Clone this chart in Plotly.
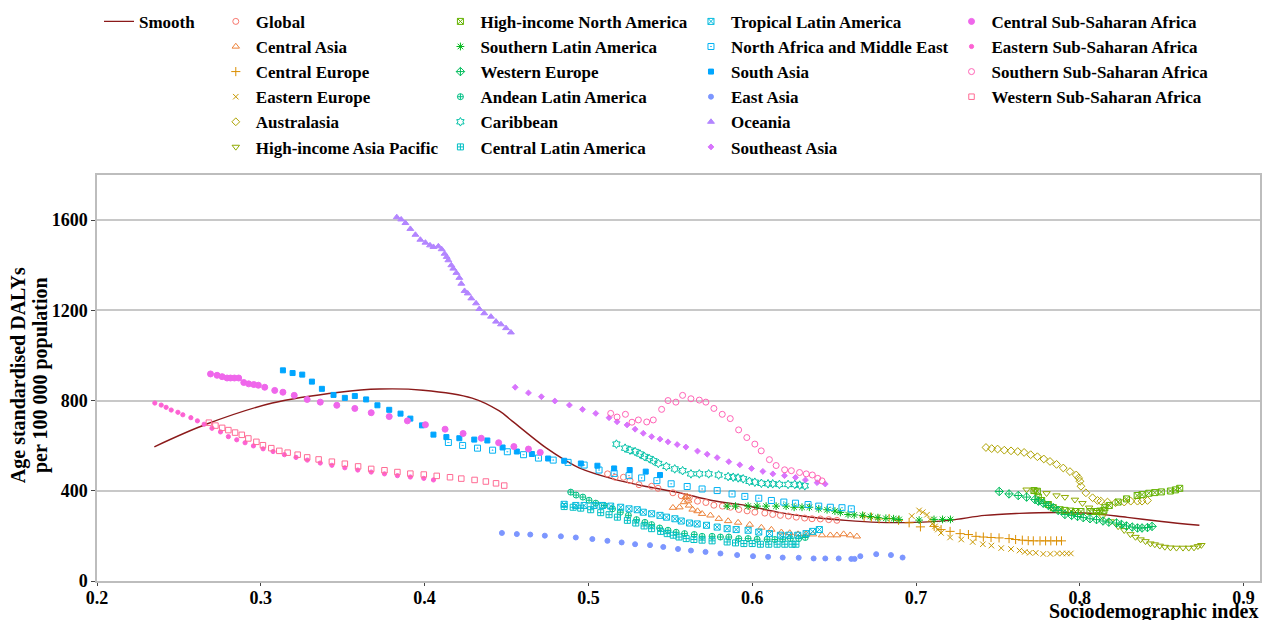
import math
import plotly.graph_objects as go

# ---------------- data ----------------
regions = ["Global", "Central Asia", "Central Europe", "Eastern Europe", "Australasia",
           "High-income Asia Pacific", "High-income North America", "Southern Latin America",
           "Western Europe", "Andean Latin America", "Caribbean", "Central Latin America",
           "Tropical Latin America", "North Africa and Middle East", "South Asia", "East Asia",
           "Oceania", "Southeast Asia", "Central Sub-Saharan Africa", "Eastern Sub-Saharan Africa",
           "Southern Sub-Saharan Africa", "Western Sub-Saharan Africa"]

sdi_global = [0.5117,0.5163,0.5214,0.5254,0.5309,0.5386,0.5425,0.5516,0.5567,0.5616,0.5666,0.5717,0.5766,0.5818,0.5867,0.5918,0.5969,0.6016,0.6077,0.6125,0.6172,0.6221,0.6269,0.632,0.6365,0.6416,0.6467,0.6517]
daly_global = [475,460,460,445,427,420,411,391,378,370,354,348,336,332,327,317,311,305,301,295,291,288,283,279,276,275,272,269]

sdi_central_asia = [0.5516,0.5556,0.5583,0.5593,0.5603,0.5609,0.5614,0.5636,0.5666,0.5694,0.5745,0.5796,0.5853,0.5914,0.5985,0.6056,0.6117,0.6178,0.6229,0.628,0.6329,0.6371,0.6426,0.6477,0.6517,0.6558,0.6598,0.6639]
daly_central_asia = [325,327,350,372,375,357,335,317,310,298,291,276,266,259,250,237,228,216,213,208,208,207,203,203,203,208,203,198]

sdi_central_europe = [0.6683,0.6728,0.6774,0.6836,0.6893,0.6958,0.7027,0.7111,0.7153,0.7208,0.7269,0.732,0.7366,0.7411,0.7458,0.7507,0.7568,0.7608,0.7649,0.7685,0.7716,0.7757,0.7791,0.7823,0.7858,0.7888]
daly_central_europe = [285,283,275,277,269,258,240,242,228,220,210,206,198,195,193,191,188,184,181,179,178,178,178,178,178,178]

sdi_eastern_europe = [0.6974,0.7019,0.7041,0.7067,0.7085,0.71,0.7116,0.7133,0.7153,0.7208,0.7276,0.7346,0.7408,0.746,0.752,0.758,0.7632,0.7664,0.7694,0.7731,0.7777,0.782,0.7861,0.7893,0.792,0.7945]
daly_eastern_europe = [288,313,305,294,273,254,242,228,213,193,184,173,163,157,146,142,135,129,125,125,120,120,122,122,122,122]

sdi_australasia = [0.7427,0.7462,0.7498,0.7539,0.758,0.7621,0.766,0.77,0.7741,0.778,0.7818,0.7858,0.7899,0.794,0.7978,0.7993,0.8001,0.8007,0.8037,0.8078,0.8108,0.8128,0.8169,0.8218,0.8271,0.8311,0.8352,0.838,0.8413]
daly_australasia = [592,587,585,580,577,574,570,560,551,541,530,517,501,485,470,457,442,420,391,369,357,354,350,347,350,354,354,354,357]

sdi_hi_asia_pacific = [0.7675,0.7726,0.7797,0.7858,0.7909,0.797,0.8016,0.8057,0.8102,0.8138,0.8189,0.8234,0.8271,0.8309,0.834,0.8371,0.8401,0.8431,0.8458,0.8488,0.8519,0.8553,0.859,0.863,0.8665,0.8697,0.8721,0.8742]
daly_hi_asia_pacific = [405,401,389,379,372,360,345,325,305,286,264,242,225,207,195,184,176,166,162,156,151,148,147,147,147,148,154,159]

sdi_hi_north_america = [0.772,0.7741,0.7747,0.7767,0.7808,0.7838,0.7879,0.7909,0.7946,0.7974,0.8007,0.8062,0.8102,0.8122,0.8147,0.8153,0.818,0.8234,0.8285,0.835,0.838,0.8421,0.8458,0.8498,0.8553,0.8584,0.861]
daly_hi_north_america = [401,398,372,357,339,325,316,313,310,308,308,308,308,310,313,325,335,350,364,379,383,389,392,395,399,404,411]

sdi_southern_latam = [0.5847,0.5898,0.5975,0.603,0.6085,0.6146,0.6207,0.6256,0.6304,0.6349,0.6406,0.6457,0.6505,0.6538,0.6585,0.6623,0.6674,0.6721,0.6767,0.6816,0.6863,0.6897,0.7019,0.711,0.7162,0.721]
daly_southern_latam = [332,332,332,332,332,332,332,327,327,327,320,316,310,304,295,293,291,286,281,278,276,273,270,273,273,273]

sdi_western_europe = [0.7508,0.7568,0.7624,0.7675,0.7726,0.7747,0.7777,0.7808,0.7838,0.7868,0.7909,0.795,0.7986,0.8021,0.8062,0.8102,0.8142,0.8177,0.8224,0.8254,0.8285,0.832,0.8352,0.838,0.8413,0.8441]
daly_western_europe = [397,386,379,372,361,354,345,335,325,313,295,291,286,281,276,272,266,261,257,251,244,239,235,235,237,242]

sdi_andean_latam = [0.4892,0.4925,0.4966,0.5004,0.5045,0.5096,0.5147,0.5195,0.5244,0.5294,0.5345,0.5386,0.5435,0.5486,0.5536,0.5587,0.5646,0.5694,0.5755,0.5806,0.5857,0.5918,0.5975,0.603,0.6091,0.6138,0.6186,0.6233,0.6284,0.6324]
daly_andean_latam = [394,381,372,358,345,335,320,305,291,272,260,250,235,225,216,210,206,198,198,195,195,188,188,185,185,184,185,188,188,193]

sdi_caribbean = [0.5171,0.5224,0.5254,0.5285,0.5315,0.5342,0.5371,0.5397,0.5427,0.5476,0.5527,0.5575,0.5626,0.5677,0.5734,0.5795,0.5853,0.5884,0.5914,0.5945,0.5983,0.6016,0.6056,0.6097,0.6125,0.6166,0.6219,0.626,0.629,0.6321]
daly_caribbean = [607,589,580,574,563,552,543,533,521,508,497,489,475,475,475,470,463,460,457,453,442,438,433,431,431,428,428,428,425,422]

sdi_central_latam = [0.4852,0.4907,0.4953,0.5014,0.5075,0.5126,0.5177,0.5238,0.5289,0.534,0.5386,0.5441,0.5481,0.5518,0.5553,0.5597,0.5644,0.5694,0.5755,0.5847,0.5898,0.5949,0.6,0.605,0.6101,0.6152,0.6199,0.6243,0.6267]
daly_central_latam = [330,327,323,316,303,294,283,269,257,244,232,220,210,203,195,188,184,181,178,173,169,166,166,163,163,163,163,163,163]

sdi_tropical_latam = [0.4852,0.4923,0.4974,0.5035,0.5085,0.5136,0.5197,0.5248,0.5298,0.5335,0.5386,0.5437,0.5477,0.5528,0.5567,0.5617,0.5664,0.5721,0.5786,0.5847,0.5902,0.5975,0.604,0.6105,0.6172,0.6223,0.6278,0.6329,0.6369,0.641]
daly_tropical_latam = [340,335,335,335,335,332,327,320,316,305,298,291,283,276,266,257,253,247,239,232,228,225,217,210,203,203,203,210,220,228]

sdi_name = [0.4145,0.4232,0.4323,0.4415,0.4505,0.4604,0.4695,0.4785,0.4876,0.4974,0.5065,0.5157,0.5248,0.5325,0.5418,0.5505,0.5603,0.5694,0.5786,0.5877,0.5955,0.604,0.6117,0.6193,0.6264,0.6341,0.6406,0.6477,0.6548,0.6605]
daly_name = [614,601,589,580,573,560,545,536,526,514,492,477,467,457,445,431,419,408,401,386,375,367,357,350,345,339,332,327,325,320]

sdi_south_asia = [0.3135,0.3194,0.3253,0.3312,0.3373,0.3444,0.3513,0.3574,0.3643,0.3712,0.3784,0.3853,0.3913,0.3984,0.4054,0.4133,0.4212,0.4303,0.4383,0.4476,0.4563,0.4655,0.4754,0.4852,0.4954,0.5055,0.5157,0.5252,0.535,0.5437]
daly_south_asia = [934,922,915,884,852,825,812,820,805,779,759,742,720,690,649,638,633,627,623,592,574,563,543,533,521,511,499,492,485,470]

sdi_east_asia = [0.4472,0.4563,0.4645,0.4734,0.4832,0.4923,0.5024,0.5116,0.5203,0.5285,0.5376,0.5457,0.5547,0.5626,0.5715,0.5806,0.5908,0.6005,0.6097,0.6186,0.6284,0.6375,0.6446,0.6528,0.6605,0.6625,0.666,0.6757,0.6847,0.6918]
daly_east_asia = [213,208,206,201,198,193,186,178,171,163,159,151,142,135,129,122,115,110,107,104,103,100,100,100,98,98,110,119,115,104]

sdi_oceania = [0.383,0.3857,0.3883,0.3913,0.3944,0.3974,0.4005,0.4033,0.4054,0.4084,0.4104,0.4122,0.4135,0.4145,0.4163,0.4175,0.4194,0.4212,0.4224,0.4244,0.4263,0.4285,0.4314,0.4334,0.4364,0.4405,0.4436,0.4466,0.4497,0.4527]
daly_oceania = [1613,1603,1587,1561,1535,1513,1500,1488,1481,1484,1471,1451,1437,1422,1400,1385,1366,1344,1318,1286,1275,1253,1231,1206,1187,1172,1150,1138,1121,1102]

sdi_southeast_asia = [0.4553,0.4634,0.4713,0.4795,0.4884,0.4964,0.5045,0.5126,0.5175,0.5236,0.5285,0.5335,0.5386,0.5437,0.5486,0.5542,0.5595,0.5666,0.5725,0.5786,0.5857,0.5924,0.5996,0.6065,0.6126,0.6197,0.6264,0.6325,0.6396,0.6446]
daly_southeast_asia = [859,834,817,798,780,761,743,724,706,692,673,655,640,629,617,605,594,576,562,547,529,515,499,486,475,467,459,448,436,430]

sdi_central_ssa = [0.2693,0.2733,0.2764,0.2794,0.2815,0.2839,0.2865,0.2896,0.2926,0.2957,0.2985,0.3024,0.3085,0.3135,0.3204,0.3283,0.3363,0.3464,0.3574,0.3674,0.3784,0.3895,0.4005,0.4125,0.4235,0.4346,0.4452,0.4545,0.4634,0.4706]
daly_central_ssa = [918,912,906,900,900,900,900,880,874,871,868,859,845,837,823,805,793,779,765,746,729,710,693,673,654,633,613,596,585,570]

sdi_eastern_ssa = [0.2353,0.2392,0.2422,0.2453,0.2494,0.2524,0.2573,0.2613,0.2654,0.2702,0.2754,0.2802,0.2853,0.2904,0.2955,0.3014,0.3075,0.3144,0.3215,0.3284,0.3363,0.3434,0.3513,0.3592,0.3674,0.3755,0.3834,0.3913,0.3995,0.4054]
daly_eastern_ssa = [789,780,770,758,748,737,724,710,695,677,661,640,626,613,599,586,574,560,548,536,523,513,502,492,483,475,467,461,455,448]

sdi_southern_ssa = [0.5136,0.5175,0.5226,0.5266,0.5305,0.5356,0.5396,0.5447,0.5486,0.5534,0.5575,0.5626,0.5677,0.5717,0.5766,0.5817,0.5866,0.5917,0.5967,0.6016,0.6055,0.6105,0.6146,0.6198,0.6239,0.6289,0.633,0.6367,0.64,0.6426]
daly_southern_ssa = [743,727,739,704,714,705,714,761,800,793,823,808,802,793,765,739,720,670,636,607,577,538,512,493,489,481,475,470,455,444]

sdi_western_ssa = [0.2683,0.2723,0.2764,0.2802,0.2843,0.2884,0.2924,0.2973,0.3013,0.3064,0.3113,0.3164,0.3225,0.3283,0.3353,0.3434,0.3513,0.3594,0.3674,0.3755,0.3834,0.3913,0.3995,0.4074,0.4155,0.4224,0.4305,0.4374,0.4436,0.4486]
daly_western_ssa = [702,689,679,669,658,648,632,617,602,589,577,569,560,548,539,529,520,508,497,491,483,476,472,466,460,454,448,441,433,423]

sdi_smooth = [0.235,0.267,0.307,0.348,0.3725,0.399,0.429,0.4456,0.4535,0.4742,0.4864,0.4943,0.5144,0.5352,0.5553,0.5754,0.5961,0.6162,0.6327,0.657,0.677,0.698,0.720,0.742,0.763,0.785,0.807,0.829,0.850,0.873]
daly_smooth = [595,696,789,837,851,846,811,754,709,590,533,502,454,419,392,357,335,304,286,269,260,260,269,291,300,304,300,282,264,247]

x_ticks = [0.2, 0.3, 0.4, 0.5, 0.6, 0.7, 0.8, 0.9]
y_ticks = [0, 400, 800, 1200, 1600]

series_x = [sdi_global, sdi_central_asia, sdi_central_europe, sdi_eastern_europe, sdi_australasia,
            sdi_hi_asia_pacific, sdi_hi_north_america, sdi_southern_latam, sdi_western_europe,
            sdi_andean_latam, sdi_caribbean, sdi_central_latam, sdi_tropical_latam, sdi_name,
            sdi_south_asia, sdi_east_asia, sdi_oceania, sdi_southeast_asia, sdi_central_ssa,
            sdi_eastern_ssa, sdi_southern_ssa, sdi_western_ssa]
series_y = [daly_global, daly_central_asia, daly_central_europe, daly_eastern_europe, daly_australasia,
            daly_hi_asia_pacific, daly_hi_north_america, daly_southern_latam, daly_western_europe,
            daly_andean_latam, daly_caribbean, daly_central_latam, daly_tropical_latam, daly_name,
            daly_south_asia, daly_east_asia, daly_oceania, daly_southeast_asia, daly_central_ssa,
            daly_eastern_ssa, daly_southern_ssa, daly_western_ssa]

# ---------------- styles ----------------
def hcl_hex(h, c=100.0, l=65.0):
    Xn, Yn, Zn = 95.047, 100.0, 108.883
    Y = Yn * ((l + 16) / 116) ** 3
    den = Xn + 15 * Yn + 3 * Zn
    un, vn = 4 * Xn / den, 9 * Yn / den
    u = c * math.cos(math.radians(h)); v = c * math.sin(math.radians(h))
    up = u / (13 * l) + un; vp = v / (13 * l) + vn
    X = 9 * Y * up / (4 * vp)
    Z = Y * (12 - 3 * up - 20 * vp) / (4 * vp)
    X, Y, Z = X / 100, Y / 100, Z / 100
    r = 3.2404542 * X - 1.5371385 * Y - 0.4985314 * Z
    g = -0.9692660 * X + 1.8760108 * Y + 0.0415560 * Z
    b = 0.0556434 * X - 0.2040259 * Y + 1.0572252 * Z
    def gam(t):
        t = 1.055 * t ** (1 / 2.4) - 0.055 if t > 0.0031308 else 12.92 * t
        return int(round(max(0, min(1, t)) * 255))
    return "#%02X%02X%02X" % (gam(r), gam(g), gam(b))

n = len(regions)
colors = [hcl_hex(15 + 360 * i / n) for i in range(n)]

symbols = ["circle-open", "triangle-up-open", "cross-thin-open", "x-thin-open", "diamond-open",
           "triangle-down-open", "square-x-open", "asterisk-open", "diamond-cross-open",
           "circle-cross-open", "hexagram-open", "square-cross-open", "square-x-open",
           "square-open-dot", "square", "circle", "triangle-up", "diamond", "circle",
           "circle", "circle-open", "square-open"]
sizes = [6, 6.5, 6.5, 5.5, 6, 6.5, 6, 6.5, 6.5, 6, 6.5, 6, 6, 6, 5, 5, 6, 4.5, 6, 4.2, 6, 5.5]
legend_of = ["legend2"] * 6 + ["legend3"] * 6 + ["legend4"] * 6 + ["legend5"] * 4

FONT = "Liberation Serif"

fig = go.Figure()
fig.add_trace(go.Scatter(x=sdi_smooth, y=daly_smooth, mode="lines", name="Smooth", showlegend=True,
                         line=dict(color="#8B1A1A", width=1.4, shape="spline", smoothing=1.0),
                         legend="legend"))
for i, name in enumerate(regions):
    fig.add_trace(go.Scatter(
        x=series_x[i], y=series_y[i], mode="markers", name=name, legend=legend_of[i], showlegend=True,
        marker=dict(symbol=symbols[i], size=sizes[i], color=colors[i],
                    line=dict(color=colors[i], width=1))))

def leg(xpix):
    return dict(x=(xpix - 97) / 1165, y=(581 - 1) / 408, xanchor="left", yanchor="top",
                orientation="v", bgcolor="rgba(0,0,0,0)", borderwidth=0, tracegroupgap=0,
                visible=True,
                font=dict(family=FONT, size=17, color="black", weight="bold"), itemwidth=30)

fig.update_layout(
    width=1266, height=620, showlegend=True,
    margin=dict(l=97, r=4, t=173, b=39),
    plot_bgcolor="white", paper_bgcolor="white",
    legend=leg(99), legend2=leg(216), legend3=leg(441), legend4=leg(692), legend5=leg(953),
    xaxis=dict(range=[0.2, 0.91], tickvals=x_ticks, ticktext=["%.1f" % t for t in x_ticks],
               showgrid=False, zeroline=False, showline=True, linecolor="#BDBDBD", linewidth=1.5,
               mirror=True, ticks="outside", ticklen=3, tickwidth=1.2, tickcolor="#444444",
               ticklabelstandoff=-3,
               tickfont=dict(family=FONT, size=18, color="black", weight="bold")),
    yaxis=dict(range=[0, 1800], tickvals=y_ticks, showgrid=True, gridcolor="#C8C8C8", gridwidth=1.5,
               zeroline=False, showline=True, linecolor="#BDBDBD", linewidth=1.5, mirror=True,
               ticks="outside", ticklen=4, tickwidth=1.2, tickcolor="#444444",
               tickfont=dict(family=FONT, size=18, color="black", weight="bold")),
    annotations=[
        dict(text="Sociodemographic index", xref="paper", yref="paper", x=1.0, y=(581 - 612) / 408,
             xanchor="right", yanchor="middle", showarrow=False,
             font=dict(family=FONT, size=20, color="black", weight="bold")),
        dict(text="Age standardised DALYs", xref="paper", yref="paper", x=(18 - 97) / 1165,
             y=(581 - 374) / 408, xanchor="center", yanchor="middle", textangle=-90, showarrow=False,
             font=dict(family=FONT, size=20, color="black", weight="bold")),
        dict(text="per 100 000 population", xref="paper", yref="paper", x=(40 - 97) / 1165,
             y=(581 - 374) / 408, xanchor="center", yanchor="middle", textangle=-90, showarrow=False,
             font=dict(family=FONT, size=20, color="black", weight="bold")),
    ],
)

fig.write_html("out.html", config={"displayModeBar": False},
               post_script="document.body.style.margin='0';")
